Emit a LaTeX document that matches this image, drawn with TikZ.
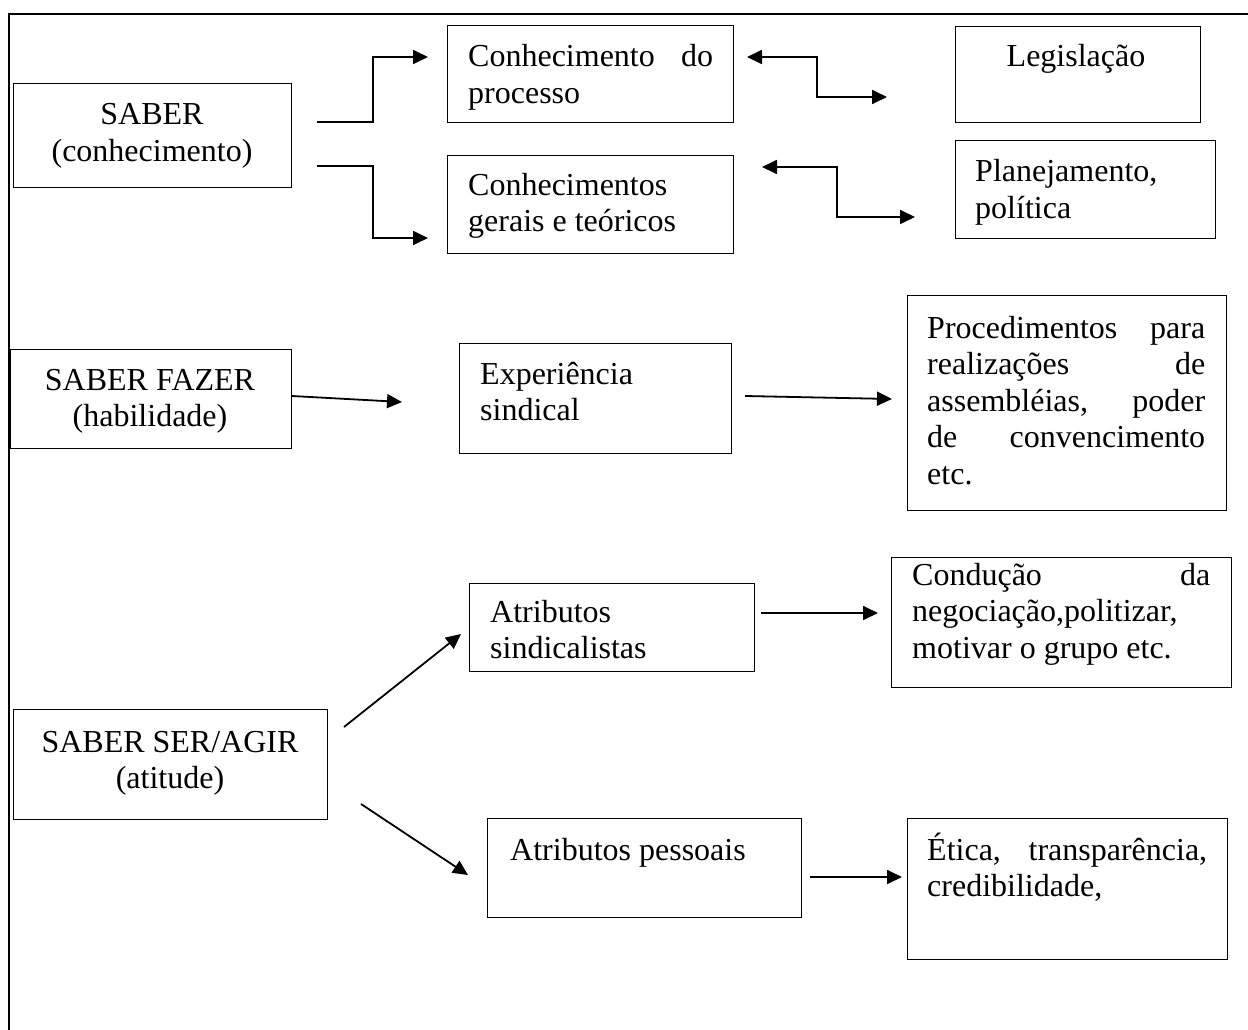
\documentclass[tikz,border=0pt]{standalone}
\usepackage{fontspec}
\setmainfont{Liberation Serif}
\usetikzlibrary{arrows.meta}
\begin{document}
\begin{tikzpicture}[x=1pt,y=-1pt,
  box/.style={draw, line width=1.4pt, inner sep=0pt, anchor=north west},
  lbl/.style={inner sep=0pt, anchor=base west, font=\fontsize{32}{36.5}\selectfont},
  clbl/.style={inner sep=0pt, anchor=base, font=\fontsize{32}{36.5}\selectfont},
  arr/.style={line width=1.8pt, -{Triangle[length=15pt,width=14pt]}},
  darr/.style={line width=1.8pt, {Triangle[length=15pt,width=14pt]}-{Triangle[length=15pt,width=14pt]}}]
\useasboundingbox (0,0) rectangle (1248,1030);
% outer frame
\draw[line width=2pt] (9,1031) -- (9,14) -- (1249,14);

% boxes
\node[box, minimum width=278pt, minimum height=104pt] (saber) at (13,83) {};
\node[box, minimum width=286pt, minimum height=97pt] (cproc) at (447,25) {};
\node[box, minimum width=286pt, minimum height=98pt] (cger) at (447,155) {};
\node[box, minimum width=245pt, minimum height=96pt] (leg) at (955,26) {};
\node[box, minimum width=260pt, minimum height=98pt] (plan) at (955,140) {};
\node[box, minimum width=281pt, minimum height=99pt] (fazer) at (10,349) {};
\node[box, minimum width=272pt, minimum height=110pt] (exp) at (459,343) {};
\node[box, minimum width=319pt, minimum height=215pt] (proc) at (907,295) {};
\node[box, minimum width=314pt, minimum height=110pt] (ser) at (13,709) {};
\node[box, minimum width=285pt, minimum height=88pt] (asind) at (469,583) {};
\node[box, minimum width=340pt, minimum height=130pt] (cond) at (891,557) {};
\node[box, minimum width=314pt, minimum height=99pt] (apes) at (487,818) {};
\node[box, minimum width=320pt, minimum height=141pt] (etica) at (907,818) {};

% texts
\node[clbl] (saber-t) at (152,125) {\parbox[t]{270pt}{\centering SABER\\(conhecimento)}};
\node[lbl] (cproc-t) at (468,67) {\parbox[t]{245pt}{Conhecimento\hfill do\\processo}};
\node[lbl] (cger-t) at (468,195) {\parbox[t]{250pt}{Conhecimentos\\gerais e teóricos}};
\node[clbl] (leg-t) at (1076,67) {Legislação};
\node[lbl] (plan-t) at (975,182) {\parbox[t]{230pt}{Planejamento,\\política}};
\node[clbl] (fazer-t) at (150,390) {\parbox[t]{270pt}{\centering SABER FAZER\\(habilidade)}};
\node[lbl] (exp-t) at (480,384) {\parbox[t]{240pt}{Experiência\\sindical}};
\node[lbl] (proc-t) at (927,338) {\parbox[t]{278pt}{Procedimentos\hfill para\\realizações\hfill de\\assembléias,\hfill poder\\de\hfill convencimento\\etc.}};
\node[clbl] (ser-t) at (170,752) {\parbox[t]{300pt}{\centering SABER SER/AGIR\\(atitude)}};
\node[lbl] (asind-t) at (490,622) {\parbox[t]{250pt}{Atributos\\sindicalistas}};
\node[lbl] (cond-t) at (912,585) {\parbox[t]{298pt}{Condução\hfill da\\negociação,politizar,\\motivar o grupo etc.}};
\node[lbl] (apes-t) at (510,860) {Atributos pessoais};
\node[lbl] (etica-t) at (927,860) {\parbox[t]{280pt}{Ética,\hfill transparência,\\credibilidade,}};

% connector end points
\coordinate (s1) at (317,122);  \coordinate (e1) at (428,57);
\coordinate (s2) at (317,166);  \coordinate (e2) at (428,238);
\coordinate (d1a) at (747,57);  \coordinate (d1b) at (887,97);
\coordinate (d2a) at (762,167); \coordinate (d2b) at (915,217);
\coordinate (s5) at (292,396);  \coordinate (e5) at (402,402);
\coordinate (s6) at (745,396);  \coordinate (e6) at (892,399);
\coordinate (s7) at (344,727);  \coordinate (e7) at (461,634);
\coordinate (s8) at (361,804);  \coordinate (e8) at (468,875);
\coordinate (s9) at (761,613);  \coordinate (e9) at (878,613);
\coordinate (s10) at (810,877); \coordinate (e10) at (902,877);

% connectors
\draw[arr] (s1) -- (373,122) -- (373,57) -- (e1);
\draw[arr] (s2) -- (373,166) -- (373,238) -- (e2);
\draw[darr] (d1a) -- (817,57) -- (817,97) -- (d1b);
\draw[darr] (d2a) -- (837,167) -- (837,217) -- (d2b);
\draw[arr] (s5) -- (e5);
\draw[arr] (s6) -- (e6);
\draw[arr] (s7) -- (e7);
\draw[arr] (s8) -- (e8);
\draw[arr] (s9) -- (e9);
\draw[arr] (s10) -- (e10);
\end{tikzpicture}
\end{document}
